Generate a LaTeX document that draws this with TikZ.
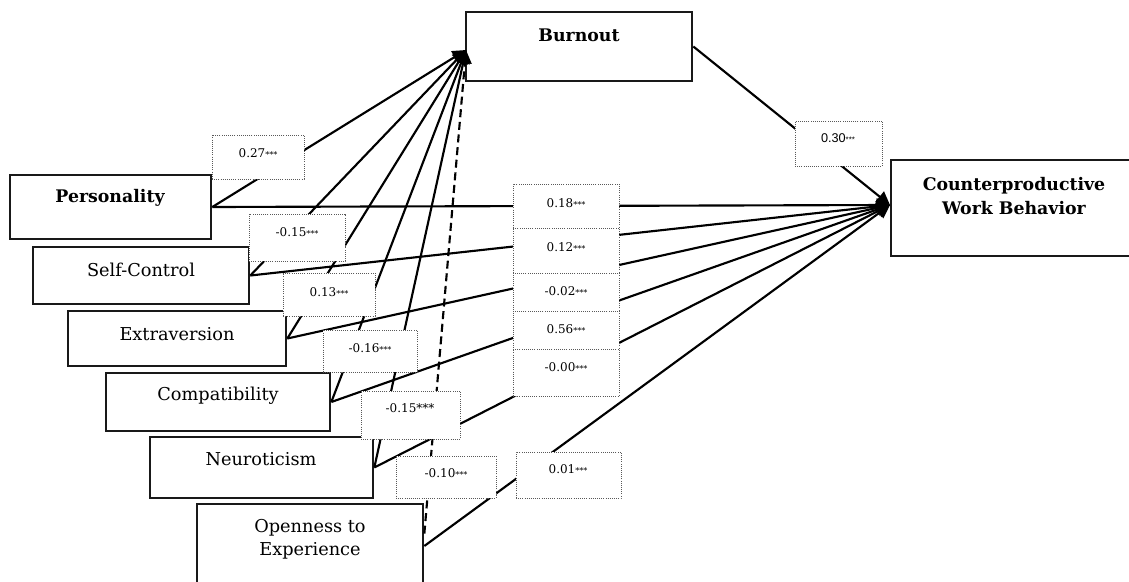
\documentclass[tikz,border=0pt]{standalone}
\usepackage{fontspec}
\setmainfont{DejaVu Serif}
\setsansfont{Liberation Sans}
\usetikzlibrary{arrows.meta,fit,calc}
\newcommand\stars{{\fontsize{6}{7}\selectfont***}}
\begin{document}
\begin{tikzpicture}[x=0.75pt,y=-0.75pt,
  box/.style={draw=black!90, line width=2pt, fill=white, inner sep=0pt},
  lbl/.style={draw=black!65, densely dotted, line width=0.6pt, fill=white, inner sep=0pt},
  txt/.style={inner sep=0pt, align=center, font=\fontsize{13.3}{17.5}\selectfont},
  btxt/.style={inner sep=0pt, align=center, font=\fontsize{13}{17.5}\selectfont\bfseries},
  ltxt/.style={inner sep=0pt, font=\fontsize{9}{11}\selectfont},
  conn/.style={line width=1.6pt, -{Triangle[length=10pt,width=10pt]}}
]
\useasboundingbox (0,0) rectangle (1129,582);

% main boxes
\node[box, fit={(466,12)(692,81)}] (burn) {};
\node[btxt] (burnT) at (579,35) {Burnout};
\node[box, fit={(10,175)(211,239)}] (pers) {};
\node[btxt] (persT) at (110,198) {Personality};
\node[box, fit={(33,247)(249,304)}] (self) {};
\node[txt] (selfT) at (141,270) {Self-Control};
\node[box, fit={(68,311)(286,366)}] (extr) {};
\node[txt] (extrT) at (177,334) {Extraversion};
\node[box, fit={(106,373)(330,431)}] (comp) {};
\node[txt] (compT) at (218,396) {Compatibility};
\node[box, fit={(150,437)(373,498)}] (neur) {};
\node[txt] (neurT) at (261,459) {Neuroticism};
\node[box, fit={(197,504)(423,588)}] (open) {};
\node[txt] (openT) at (310,539) {Openness to\\Experience};
\node[box, fit={(891,160)(1137,256)}] (cwb) {};
\node[btxt] (cwbT) at (1014,196) {Counterproductive\\Work Behavior};

\coordinate (bIn) at (466,50);
\coordinate (cIn) at (890,205);

% connectors
\draw[conn] (pers.east) -- (bIn);
\draw[conn] (self.east) -- (bIn);
\draw[conn] (extr.east) -- (bIn);
\draw[conn] (comp.east) -- (bIn);
\draw[conn] (neur.east) -- (bIn);
\draw[conn, dash pattern=on 6pt off 3.5pt] ($(open.north east)+(0,31)$) -- (bIn);
\draw[conn] (pers.east) -- (cIn);
\draw[conn] (self.east) -- (cIn);
\draw[conn] (extr.east) -- (cIn);
\draw[conn] (comp.east) -- (cIn);
\draw[conn] (neur.east) -- (cIn);
\draw[conn] (open.east) -- (cIn);
\draw[conn] (burn.east) -- (cIn);

% coefficient labels
\node[lbl, fit={(212,135)(304,179)}] (l27) {};
\node[ltxt] (t27) at (258,153) {0.27\stars};
\node[lbl, fit={(249,214)(345,261)}] (l15a) {};
\node[ltxt] (t15a) at (297,232) {-0.15\stars};
\node[lbl, fit={(283,273)(375,316)}] (l13) {};
\node[ltxt] (t13) at (329,292) {0.13\stars};
\node[lbl, fit={(323,330)(417,372)}] (l16) {};
\node[ltxt] (t16) at (370,348) {-0.16\stars};
\node[lbl, fit={(361,391)(460,439)}] (l15b) {};
\node[ltxt] (t15b) at (410,408) {-0.15***};
\node[lbl, fit={(396,456)(496,498)}] (l10) {};
\node[ltxt] (t10) at (446,473) {-0.10\stars};
\node[lbl, fit={(795,121)(882,166)}] (l30) {};
\node[ltxt, font=\fontsize{9.5}{11}\selectfont\sffamily] (t30) at (838,138) {0.30\stars};
\node[lbl, fit={(513,184)(619,228)}] (l18) {};
\node[ltxt] (t18) at (566,203) {0.18\stars};
\node[lbl, fit={(513,228)(619,273)}] (l12) {};
\node[ltxt] (t12) at (566,247) {0.12\stars};
\node[lbl, fit={(513,273)(619,311)}] (l02) {};
\node[ltxt] (t02) at (566,291) {-0.02\stars};
\node[lbl, fit={(513,311)(619,349)}] (l56) {};
\node[ltxt] (t56) at (566,329) {0.56\stars};
\node[lbl, fit={(513,349)(619,396)}] (l00) {};
\node[ltxt] (t00) at (566,367) {-0.00\stars};
\node[lbl, fit={(516,452)(621,498)}] (l01) {};
\node[ltxt] (t01) at (568,469) {0.01\stars};
\end{tikzpicture}
\end{document}
